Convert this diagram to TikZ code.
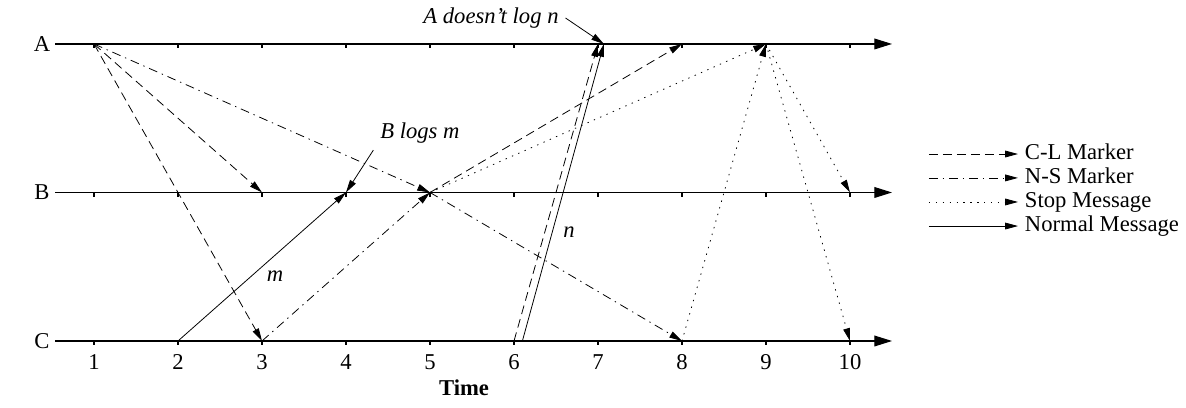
\documentclass[tikz,border=0pt]{standalone}
\usepackage{fontspec}
\setmainfont{Liberation Serif}
\usetikzlibrary{arrows.meta}

\tikzset{
  timeline/.style={line width=0.55pt,-{Triangle[length=9pt,width=5.5pt]}},
  msg/.style={line width=0.4pt,-{Triangle[length=6.5pt,width=3.4pt]}},
  clmarker/.style={msg,dash pattern=on 4.5pt off 2.6pt},
  nsmarker/.style={msg,dash pattern=on 4.5pt off 2.5pt on 0.7pt off 2.5pt},
  stopmsg/.style={msg,dash pattern=on 0.7pt off 2.8pt},
  normalmsg/.style={msg},
  legendtext/.style={anchor=west,text height=7.5pt,text depth=2pt},
}

\begin{document}
\begin{tikzpicture}[x=1.5cm,y=2.652cm,font=\fontsize{11.5}{13.8}\selectfont]
  \useasboundingbox (-0.119,-0.451) rectangle (14.0,2.296);

  % the three processes with their ticks
  \foreach \p/\y in {A/2,B/1,C/0}{
    \coordinate (start\p) at (0.536,\y);
    \coordinate (end\p) at (10.5,\y);
    \node (lab\p) at (0.381,\y) {\p};
    \draw[timeline] (start\p) -- (end\p);
    \foreach \t in {1,...,10}{
      \coordinate (\p\t) at (\t,\y);
      \draw[line width=0.55pt] (\p\t) -- ++(0,-0.03);
    }
  }
  \coordinate (Cn) at (6.1,0);
  \coordinate (An) at (7.07,2);

  % time axis
  \foreach \t in {1,...,10}
    \node (num\t) at (\t,-0.141) {\t};
  \node (time) at (5.405,-0.316) {\textbf{Time}};

  % markers and messages
  \draw[clmarker] (A1) -- (B3);
  \draw[clmarker] (A1) -- (C3);
  \draw[nsmarker] (A1) -- (B5);
  \draw[normalmsg] (C2) -- (B4);
  \draw[nsmarker] (C3) -- (B5);
  \draw[nsmarker] (B5) -- (C8);
  \draw[clmarker] (B5) -- (A8);
  \draw[stopmsg] (B5) -- (A9);
  \draw[clmarker] (C6) -- (A7);
  \draw[normalmsg] (Cn) -- (An);
  \draw[stopmsg] (C8) -- (A9);
  \draw[stopmsg] (A9) -- (B10);
  \draw[stopmsg] (A9) -- (C10);

  \node (m) at (3.155,0.438) {\textit{m}};
  \node (n) at (6.655,0.734) {\textit{n}};

  % remarks
  \node (blogs) at (4.88,1.401) {\textit{B logs m}};
  \draw[msg] (blogs.south west) -- (B4);
  \node (anolog) at (5.726,2.175) {\textit{A doesn't log n}};
  \draw[msg] (anolog.east) -- (An);

  % legend
  \foreach \s/\txt/\y [count=\i] in {clmarker/C-L Marker/1.259,
      nsmarker/N-S Marker/1.098, stopmsg/Stop Message/0.936,
      normalmsg/Normal Message/0.774}{
    \coordinate (leg\i) at (10.94,\y);
    \node[legendtext] (legtxt\i) at (12.0,\y) {\txt};
    \draw[\s] (leg\i) -- (legtxt\i.west);
  }
\end{tikzpicture}
\end{document}
